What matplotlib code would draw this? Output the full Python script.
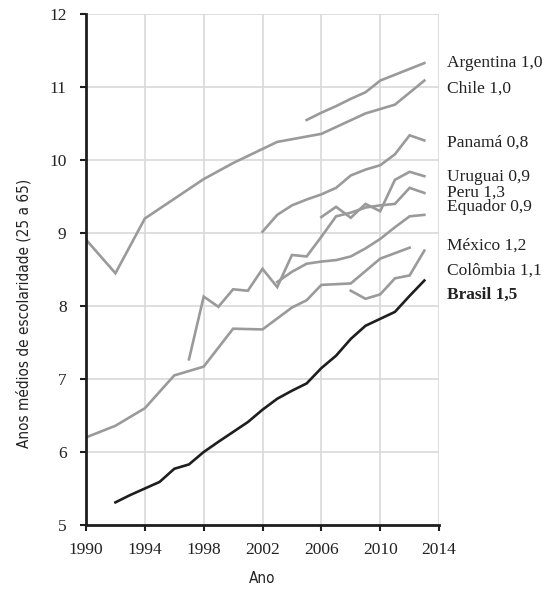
import matplotlib
matplotlib.use('Agg')
import matplotlib.pyplot as plt

# anos médios de escolaridade (25 a 65)
argentina_anos = [2005, 2006, 2007, 2008, 2009, 2010, 2011, 2012, 2013]
argentina_vals = [10.55, 10.65, 10.74, 10.84, 10.93, 11.09, 11.17, 11.25, 11.33]

chile_anos = [1990, 1992, 1994, 1996, 1998, 2000, 2003, 2006, 2009, 2011, 2013]
chile_vals = [8.91, 8.45, 9.20, 9.47, 9.74, 9.96, 10.25, 10.36, 10.64, 10.76, 11.09]

panama_anos = [2002, 2003, 2004, 2005, 2006, 2007, 2008, 2009, 2010, 2011, 2012, 2013]
panama_vals = [9.02, 9.25, 9.38, 9.46, 9.53, 9.62, 9.79, 9.87, 9.93, 10.08, 10.34, 10.27]

uruguai_anos = [2006, 2007, 2008, 2009, 2010, 2011, 2012, 2013]
uruguai_vals = [9.22, 9.36, 9.21, 9.40, 9.30, 9.73, 9.84, 9.78]

peru_anos = [1997, 1998, 1999, 2000, 2001, 2002, 2003, 2004, 2005, 2006, 2007,
             2008, 2009, 2010, 2011, 2012, 2013]
peru_vals = [7.27, 8.13, 7.99, 8.23, 8.21, 8.51, 8.26, 8.70, 8.68, 8.95, 9.23,
             9.28, 9.35, 9.38, 9.40, 9.62, 9.55]

equador_anos = [2003, 2004, 2005, 2006, 2007, 2008, 2009, 2010, 2011, 2012, 2013]
equador_vals = [8.33, 8.47, 8.58, 8.61, 8.63, 8.68, 8.79, 8.92, 9.08, 9.23, 9.25]

mexico_anos = [1990, 1992, 1994, 1996, 1998, 2000, 2002, 2004, 2005, 2006, 2008, 2010, 2012]
mexico_vals = [6.20, 6.36, 6.60, 7.05, 7.17, 7.69, 7.68, 7.98, 8.08, 8.29, 8.31, 8.65, 8.80]

colombia_anos = [2008, 2009, 2010, 2011, 2012, 2013]
colombia_vals = [8.21, 8.10, 8.16, 8.38, 8.42, 8.76]

brasil_anos = [1992, 1993, 1995, 1996, 1997, 1998, 1999, 2001, 2002, 2003, 2004,
               2005, 2006, 2007, 2008, 2009, 2011, 2012, 2013]
brasil_vals = [5.31, 5.41, 5.59, 5.77, 5.83, 6.00, 6.14, 6.41, 6.58, 6.73, 6.84,
               6.94, 7.15, 7.32, 7.55, 7.73, 7.92, 8.14, 8.35]

rotulos = ['Argentina 1,0', 'Chile 1,0', 'Panamá 0,8', 'Uruguai 0,9', 'Peru 1,3',
           'Equador 0,9', 'México 1,2', 'Colômbia 1,1', 'Brasil 1,5']
rotulo_y = [11.33, 10.98, 10.24, 9.77, 9.56, 9.36, 8.83, 8.49, 8.15]

x_ticks = [1990, 1994, 1998, 2002, 2006, 2010, 2014]
y_ticks = [5, 6, 7, 8, 9, 10, 11, 12]

SERIF = 'Liberation Serif'
GRAY = '#9a9a9a'

fig = plt.figure(figsize=(5.60, 5.91), dpi=100)
ax = fig.add_axes([0.1536, 0.1117, 0.6304, 0.8643])

cinzas = [(argentina_anos, argentina_vals), (chile_anos, chile_vals),
          (panama_anos, panama_vals), (uruguai_anos, uruguai_vals),
          (peru_anos, peru_vals), (equador_anos, equador_vals),
          (mexico_anos, mexico_vals), (colombia_anos, colombia_vals)]
for anos, vals in cinzas:
    ax.plot(anos, vals, color=GRAY, linewidth=1.9, solid_joinstyle='miter')
ax.plot(brasil_anos, brasil_vals, color='#1e1e1e', linewidth=1.9, zorder=5)

ax.set_xlim(1990, 2014)
ax.set_ylim(5, 12)
ax.set_xticks(x_ticks)
ax.set_yticks(y_ticks)
ax.grid(True, color='#d9d9d9', linewidth=1.2)
ax.set_axisbelow(True)

for s in ['top', 'right']:
    ax.spines[s].set_visible(False)
for s in ['left', 'bottom']:
    ax.spines[s].set_linewidth(2.0)
    ax.spines[s].set_color('#1e1e1e')

ax.tick_params(axis='both', direction='out', length=4, width=1.5, color='#1e1e1e',
               labelsize=12.5, labelcolor='#222222')
ax.tick_params(axis='x', pad=8)
ax.tick_params(axis='y', pad=10)
for lab in ax.get_xticklabels() + ax.get_yticklabels():
    lab.set_fontfamily(SERIF)

ax.set_xlabel('Ano', family='DejaVu Sans', fontstretch='condensed', fontsize=11,
              color='#222222')
ax.set_ylabel('Anos médios de escolaridade (25 a 65)', family='DejaVu Sans',
              fontstretch='condensed', fontsize=11, color='#222222')
ax.xaxis.set_label_coords(0.5, -0.09)
ax.yaxis.set_label_coords(-0.155, 0.415)

for txt, yv in zip(rotulos, rotulo_y):
    peso = 'bold' if txt.startswith('Brasil') else 'normal'
    ax.text(2014.55, yv, txt, family=SERIF, fontsize=12.5, fontweight=peso,
            color='#222222', va='center', ha='left', clip_on=False)

fig.savefig('out.png', dpi=100)
